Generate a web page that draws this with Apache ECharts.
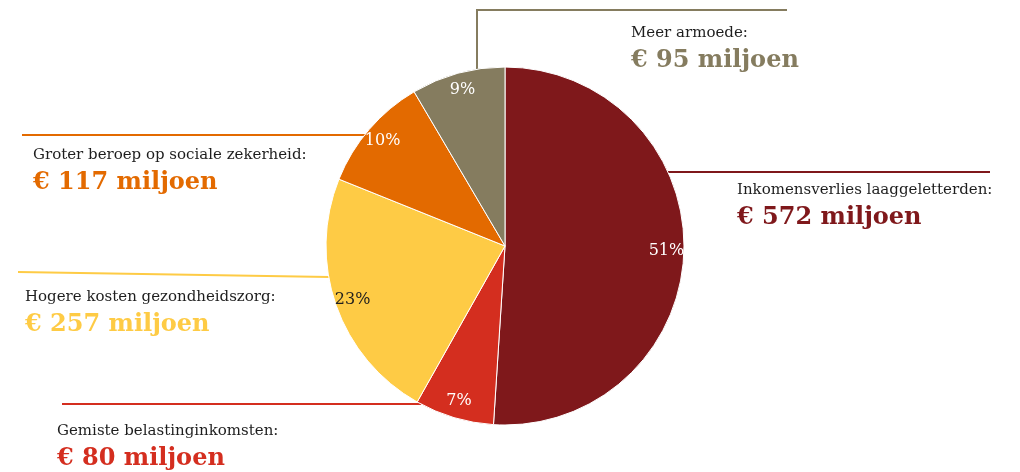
<!DOCTYPE html>
<html>
<head>
<meta charset="utf-8">
<script src="https://cdn.jsdelivr.net/npm/echarts@6/dist/echarts.min.js"></script>
<style>
  html, body { margin: 0; padding: 0; background: #fff; }
  #kosten { width: 1020px; height: 472px; }
</style>
</head>
<body>
<div id="kosten"></div>
<script>
// kosten laaggeletterdheid, in miljoen euro
const names = [
    'Inkomensverlies laaggeletterden:',
    'Gemiste belastinginkomsten:',
    'Hogere kosten gezondheidszorg:',
    'Groter beroep op sociale zekerheid:',
    'Meer armoede:'
];
const values = [572, 80, 257, 117, 95];
const percents = [51, 7, 23, 10, 9];
const colors = ['#7f181b', '#d42e1f', '#fecb45', '#e36a00', '#857c5f'];

// waar de teksten en lijnen komen te staan
const layout = [
    { x: 737, y: 179, line: [[668, 172], [990, 172]] },
    { x: 57, y: 420, line: [[421, 404], [62, 404]] },
    { x: 25, y: 286, line: [[329, 277], [18, 272]] },
    { x: 33, y: 144, line: [[365, 135], [22, 135]] },
    { x: 631, y: 22, line: [[477, 69], [477, 10], [787, 10]] }
];

const serif = '"DejaVu Serif", "Liberation Serif", serif';
const center = [505, 246];
const R = 179;

const rich = { n: { fontFamily: serif, fontSize: 15, color: '#1e1e1e', lineHeight: 22 } };
colors.forEach((c, i) => {
    rich['v' + i] = { fontFamily: serif, fontSize: 24, fontWeight: 'bold', color: c, lineHeight: 34 };
});

const myChart = echarts.init(document.getElementById('kosten'));

const option = {
    animation: false,
    color: colors,
    series: [
        {
            type: 'pie',
            center: center,
            radius: [0, R],
            startAngle: 90,
            clockwise: true,
            silent: true,
            itemStyle: { borderColor: '#fff', borderWidth: 1 },
            data: values.map((v, i) => ({ name: names[i], value: v })),
            label: {
                show: true,
                position: 'outside',
                alignTo: 'none',
                formatter: p => '{n|' + p.name + '}\n{v' + p.dataIndex + '|€ ' + p.value + ' miljoen}',
                rich: rich
            },
            labelLine: { show: true, length: 5, length2: 5, smooth: false, lineStyle: { width: 2 } },
            labelLayout: p => {
                const l = layout[p.dataIndex];
                return { x: l.x, y: l.y, align: 'left', verticalAlign: 'top', labelLinePoints: l.line };
            }
        },
        {
            // percentages net binnen de rand
            type: 'pie',
            center: center,
            radius: [138, R],
            startAngle: 90,
            clockwise: true,
            silent: true,
            itemStyle: { color: 'transparent' },
            data: values.map((v, i) => ({ name: names[i], value: v })),
            label: {
                show: true,
                position: 'inside',
                fontFamily: serif,
                fontSize: 16,
                color: '#fff',
                formatter: p => percents[p.dataIndex] + '%'
            },
            labelLine: { show: false }
        }
    ]
};
option.series[1].data[2].label = { color: '#1e1e1e' };

myChart.setOption(option);
</script>
</body>
</html>
